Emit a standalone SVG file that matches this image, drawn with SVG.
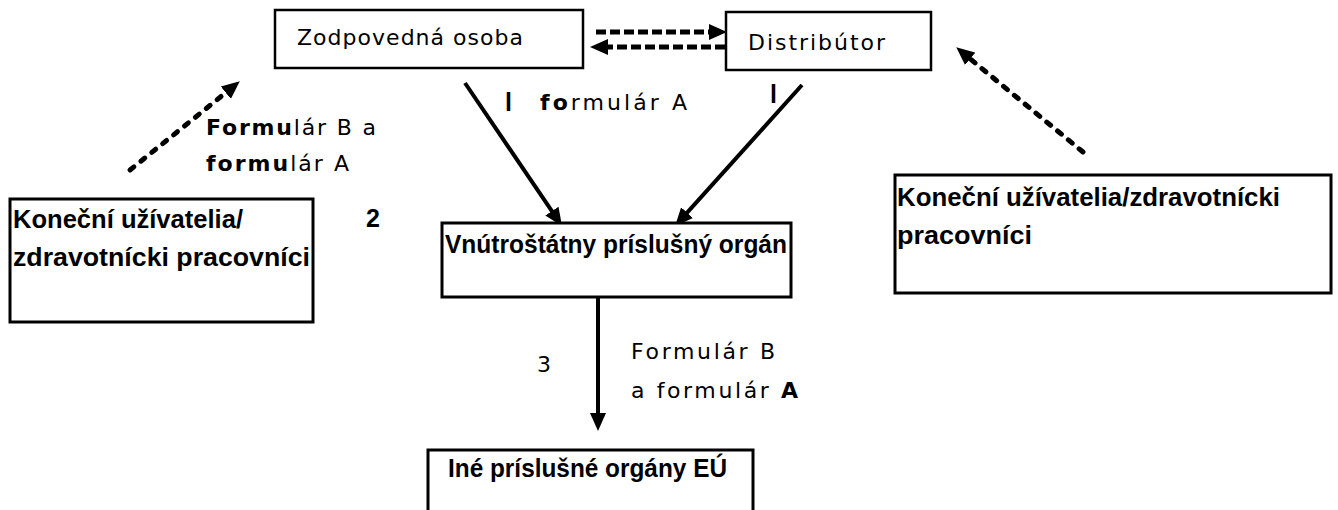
<svg xmlns="http://www.w3.org/2000/svg" width="1338" height="510" viewBox="0 0 1338 510">
<defs>
<style>
.box{fill:#fff;stroke:#000;stroke-width:2.5}
.boxb{fill:#fff;stroke:#000;stroke-width:3}
.reg{font-family:"DejaVu Sans","Liberation Sans",sans-serif;font-size:22px;fill:#000}
.bc{font-family:"Liberation Sans",Arial,sans-serif;font-weight:bold;font-size:25px;fill:#000}
.b{font-weight:bold}
.solid{stroke:#000;stroke-width:4;fill:none}
.dash{stroke:#000;stroke-width:5;fill:none;stroke-dasharray:10 4}
.dot{stroke:#000;stroke-width:5;fill:none;stroke-dasharray:5 9;stroke-linecap:round}
</style>
<marker id="ah" markerUnits="userSpaceOnUse" markerWidth="18" markerHeight="18" refX="10" refY="9" orient="auto">
<path d="M0,1 L18,9 L0,17 z" fill="#000"/>
</marker>
<marker id="dh" markerUnits="userSpaceOnUse" markerWidth="18" markerHeight="18" refX="9" refY="9" orient="auto">
<path d="M0,1 L18,9 L0,17 z" fill="#000"/>
</marker>
</defs>
<rect width="1338" height="510" fill="#fff"/>

<g id="connectors">
<line class="dash" x1="596" y1="32" x2="718" y2="32" marker-end="url(#dh)"/>
<line class="dash" x1="725" y1="47" x2="599" y2="47" marker-end="url(#dh)"/>
<line class="solid" x1="465" y1="83" x2="557.5" y2="219.4" marker-end="url(#ah)"/>
<line class="solid" x1="802" y1="85" x2="680.4" y2="220.1" marker-end="url(#ah)"/>
<line class="solid" x1="598" y1="297" x2="598" y2="423" marker-end="url(#ah)"/>
<line class="dot" x1="130" y1="170" x2="232.8" y2="87" marker-end="url(#dh)"/>
<line class="dot" x1="1083" y1="152" x2="963.2" y2="53.1" marker-end="url(#dh)"/>
</g>

<g id="labels">
<text class="bc" x="505" y="111" font-size="20">l</text>
<text class="reg" x="540" y="110" textLength="147" lengthAdjust="spacing"><tspan class="b">fo</tspan>rmulár A</text>
<text class="bc" x="770" y="103" font-size="20">l</text>
<text class="reg" x="206" y="135" textLength="170" lengthAdjust="spacing"><tspan class="b">Formu</tspan>lár B a</text>
<text class="reg" x="206" y="171" textLength="143" lengthAdjust="spacing"><tspan class="b">formu</tspan>lár A</text>
<text class="bc" x="366" y="227" font-size="20">2</text>
<text class="reg" x="537" y="372" font-size="15">3</text>
<text class="reg" x="631" y="359" textLength="144" lengthAdjust="spacing">Formulár B</text>
<text class="reg" x="631" y="398" textLength="167" lengthAdjust="spacing">a formulár <tspan class="b">A</tspan></text>
</g>

<g id="node-zodpovedna">
<rect class="box" x="275" y="10" width="308" height="58"/>
<text class="reg" x="297" y="45" textLength="226" lengthAdjust="spacing">Zodpovedná osoba</text>
</g>

<g id="node-distributor">
<rect class="box" x="726" y="12" width="205" height="58"/>
<text class="reg" x="748" y="50" textLength="137" lengthAdjust="spacing">Distribútor</text>
</g>

<g id="node-users-left">
<rect class="boxb" x="10" y="199" width="303" height="123"/>
<text class="bc" x="13" y="228" textLength="230" lengthAdjust="spacingAndGlyphs">Koneční užívatelia/</text>
<text class="bc" x="13" y="266" textLength="297" lengthAdjust="spacingAndGlyphs">zdravotnícki  pracovníci</text>
</g>

<g id="node-national">
<rect class="boxb" x="442" y="223" width="349" height="74"/>
<text class="bc" x="445" y="253" textLength="342" lengthAdjust="spacingAndGlyphs">Vnútroštátny príslušný orgán</text>
</g>

<g id="node-users-right">
<rect class="boxb" x="895" y="175" width="436" height="118"/>
<text class="bc" x="897" y="206" textLength="383" lengthAdjust="spacingAndGlyphs">Koneční užívatelia/zdravotnícki</text>
<text class="bc" x="897" y="244" textLength="135" lengthAdjust="spacingAndGlyphs">pracovníci</text>
</g>

<g id="node-eu">
<rect class="boxb" x="428" y="450" width="325" height="80"/>
<text class="bc" x="448" y="477" textLength="279" lengthAdjust="spacingAndGlyphs">Iné príslušné orgány EÚ</text>
</g>
</svg>
